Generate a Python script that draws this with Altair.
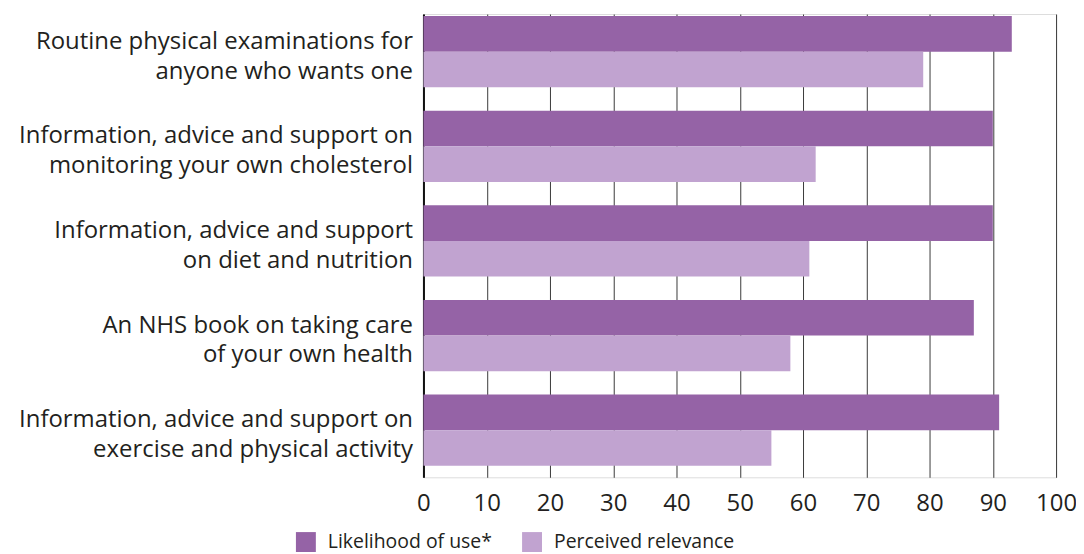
import altair as alt
import pandas as pd

categories = [
    "Routine physical examinations for|anyone who wants one",
    "Information, advice and support on|monitoring your own cholesterol",
    "Information, advice and support|on diet and nutrition",
    "An NHS book on taking care|of your own health",
    "Information, advice and support on|exercise and physical activity",
]
series = ["Likelihood of use*", "Perceived relevance"]
likelihood = [93, 90, 90, 87, 91]
relevance = [79, 62, 61, 58, 55]
colors = ["#9563a6", "#c1a3d0"]
x_ticks = [0, 10, 20, 30, 40, 50, 60, 70, 80, 90, 100]

rows = []
for c, a, b in zip(categories, likelihood, relevance):
    rows.append({"item": c, "series": series[0], "value": a})
    rows.append({"item": c, "series": series[1], "value": b})
df = pd.DataFrame(rows)

FONT = "Open Sans"

chart = (
    alt.Chart(df)
    .mark_bar(opacity=1)
    .encode(
        x=alt.X(
            "value:Q",
            scale=alt.Scale(domain=[0, 100], nice=False),
            axis=alt.Axis(
                values=x_ticks,
                title=None,
                domain=False,
                ticks=False,
                grid=True,
                gridColor="#3a3a3a",
                gridWidth=1,
                gridOpacity=1,
                labelFontSize=24,
                labelFont=FONT,
                labelColor="#231f20",
                labelPadding=14,
                labelFlush=False,
                labelOverlap=False,
            ),
        ),
        y=alt.Y(
            "item:N",
            sort=categories,
            scale=alt.Scale(paddingInner=0.247, paddingOuter=0.071, align=0.15),
            axis=alt.Axis(
                title=None,
                ticks=False,
                domain=True,
                domainColor="#111111",
                domainWidth=2,
                labelFontSize=24,
                labelFont=FONT,
                labelColor="#231f20",
                labelPadding=11,
                labelLimit=500,
                labelLineHeight=30,
                labelOffset=-10,
                labelExpr="split(datum.label, '|')",
            ),
        ),
        yOffset=alt.YOffset("series:N", sort=series, scale=alt.Scale(paddingInner=0, paddingOuter=0)),
        color=alt.Color(
            "series:N",
            sort=series,
            scale=alt.Scale(domain=series, range=colors),
            legend=alt.Legend(
                title=None,
                orient="none",
                legendX=-128,
                legendY=520,
                direction="horizontal",
                symbolType="square",
                symbolSize=400,
                symbolStrokeWidth=0,
                symbolOpacity=1,
                labelFontSize=19.5,
                labelFont=FONT,
                labelColor="#231f20",
                labelOffset=12,
                labelLimit=400,
                columnPadding=30,
            ),
        ),
    )
    .properties(
        width=635,
        height=465,
        autosize=alt.AutoSizeParams(type="none"),
        padding={"left": 417, "top": 5, "right": 20, "bottom": 90},
    )
    .configure_view(stroke=None)
    .configure(background="white")
)

chart.save("out.html", embed_options={"renderer": "svg", "actions": False})
